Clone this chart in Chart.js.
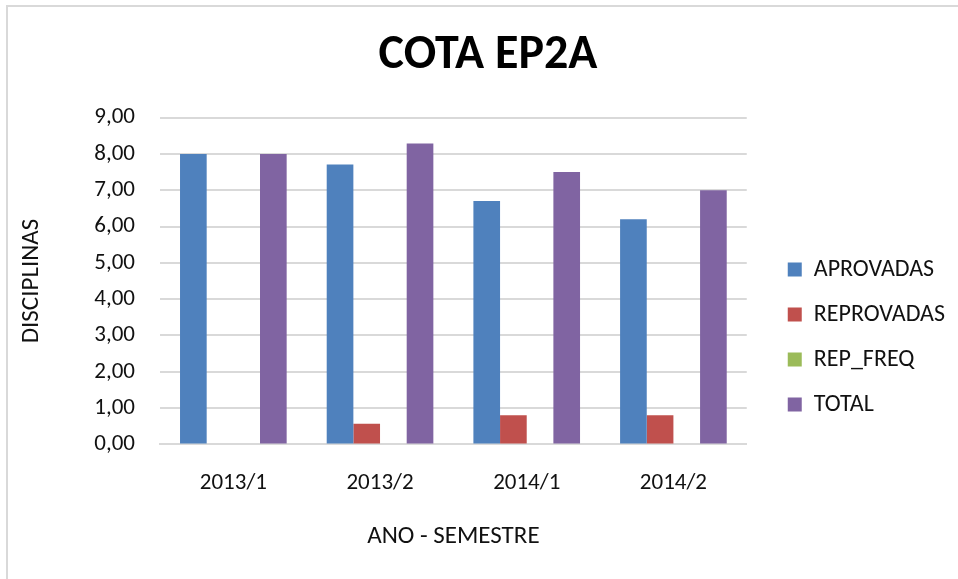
<!DOCTYPE html>
<html lang="pt">
<head>
<meta charset="utf-8">
<title>COTA EP2A</title>
<script src="https://cdn.jsdelivr.net/npm/chart.js@4.4.1/dist/chart.umd.min.js"></script>
<style>
    html, body { margin: 0; padding: 0; background: #fff; }
    #wrap { position: relative; width: 958px; height: 579px; overflow: hidden; }
    #frame {
        position: absolute; left: 6px; top: 5px; width: 1000px; height: 600px;
        border-top: 2px solid #d9d9d9; border-left: 2px solid #d9d9d9;
        box-sizing: border-box;
    }
    #chart { position: absolute; left: 0; top: 0; }
</style>
</head>
<body>
<div id="wrap">
    <div id="frame"></div>
    <canvas id="chart" width="958" height="579"></canvas>
</div>
<script>
// Dados por semestre
const semestres = ['2013/1', '2013/2', '2014/1', '2014/2'];
const aprovadas = [8.00, 7.71, 6.70, 6.20];
const reprovadas = [0.00, 0.57, 0.80, 0.80];
const repFreq = [0.00, 0.00, 0.00, 0.00];
const total = [8.00, 8.29, 7.50, 7.00];
const yTicks = [0, 1, 2, 3, 4, 5, 6, 7, 8, 9];

const fonte = "Carlito, 'Open Sans', 'Noto Sans', sans-serif";
const corTexto = '#111';
const corGrade = '#d9d9d9';

Chart.defaults.font.family = fonte;
Chart.defaults.color = corTexto;

function serie(label, data, cor) {
    return {
        label: label,
        data: data,
        backgroundColor: cor,
        borderWidth: 0,
        categoryPercentage: 0.727,
        barPercentage: 1.0
    };
}

// desloca legenda e título depois do layout
function mover(box, dx, dy) {
    if (!box) return;
    box.left += dx; box.right += dx;
    box.top += dy; box.bottom += dy;
}
const ajusteCaixas = {
    id: 'ajusteCaixas',
    afterLayout(chart, args, opts) {
        mover(chart.legend, opts.legendaDx, opts.legendaDy);
        mover(chart.titleBlock, opts.tituloDx, 0);
    }
};

const ctx = document.getElementById('chart').getContext('2d');
const grafico = new Chart(ctx, {
    type: 'bar',
    data: {
        labels: semestres,
        datasets: [
            serie('APROVADAS', aprovadas, '#4f81bd'),
            serie('REPROVADAS', reprovadas, '#c0504d'),
            serie('REP_FREQ', repFreq, '#9bbb59'),
            serie('TOTAL', total, '#8064a2')
        ]
    },
    plugins: [ajusteCaixas],
    options: {
        responsive: false,
        animation: false,
        layout: {
            padding: { left: 17, right: 23, top: 0, bottom: 27 }
        },
        plugins: {
            title: {
                display: true,
                text: 'COTA EP2A',
                color: '#000',
                font: { size: 48, weight: 'bold' },
                padding: { top: 27, bottom: 33 }
            },
            legend: {
                position: 'right',
                align: 'center',
                labels: {
                    boxWidth: 14,
                    boxHeight: 14,
                    padding: 21,
                    color: corTexto,
                    font: { size: 24 }
                }
            },
            ajusteCaixas: { legendaDx: 20, legendaDy: 61, tituloDx: 12 },
            tooltip: { enabled: false }
        },
        scales: {
            x: {
                grid: { display: false, drawTicks: false },
                border: { display: true, color: corGrade, width: 2 },
                ticks: { font: { size: 23 }, padding: 25, color: corTexto },
                title: {
                    display: true,
                    text: 'ANO - SEMESTRE',
                    font: { size: 25 },
                    color: corTexto,
                    padding: { top: 0, bottom: 0 }
                }
            },
            y: {
                min: 0,
                max: 9,
                afterBuildTicks: function(scale) {
                    scale.ticks = yTicks.map(v => ({ value: v }));
                },
                afterFit: function(scale) {
                    scale.width = 143;
                },
                grid: { color: corGrade, lineWidth: 2, drawTicks: false },
                border: { display: false },
                ticks: {
                    font: { size: 23 },
                    padding: 25,
                    color: corTexto,
                    callback: v => v.toFixed(2).replace('.', ',')
                },
                title: {
                    display: true,
                    text: 'DISCIPLINAS',
                    font: { size: 25 },
                    color: corTexto,
                    padding: { top: 0, bottom: 4 }
                }
            }
        }
    }
});
</script>
</body>
</html>
